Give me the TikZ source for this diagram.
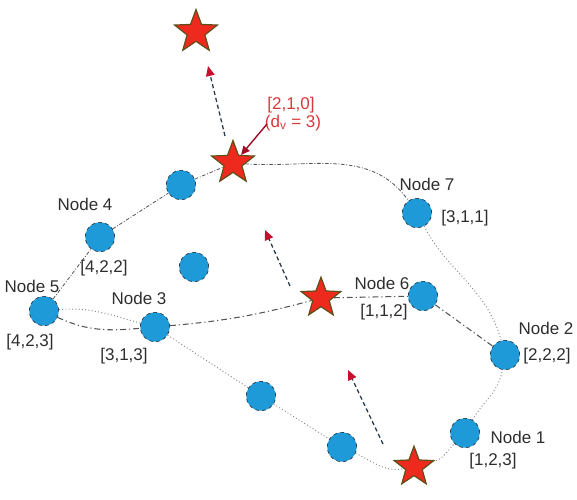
\documentclass[tikz,border=0pt]{standalone}
\usepackage{fontspec}
\setmainfont{Liberation Sans}
\usetikzlibrary{shapes.geometric,arrows.meta}
\definecolor{nodeblue}{HTML}{1E9AD8}
\definecolor{ringgray}{HTML}{2A3A48}
\definecolor{starred}{HTML}{EE2A1E}
\definecolor{starrim}{HTML}{5E4E18}
\definecolor{linkgray}{HTML}{505458}
\definecolor{tagred}{HTML}{D8383A}
\definecolor{tipred}{HTML}{C8102E}
\definecolor{textgray}{HTML}{2E2E2E}
\tikzset{
  sensor/.style={circle,fill=nodeblue,draw=ringgray,dashed,line width=0.6pt,
    minimum size=8.8mm,inner sep=0pt},
  anchorstar/.style={star,star points=5,star point ratio=2.4,fill=starred,
    draw=starrim,line width=1pt,minimum size=13.5mm,inner sep=0pt},
  ring link/.style={draw=linkgray,line width=0.7pt,dash pattern=on 3pt off 1.5pt on 0.8pt off 1.5pt},
  wide link/.style={draw=linkgray,line width=0.9pt,dash pattern=on 5pt off 2.5pt on 1pt off 2.5pt},
  dot link/.style={draw=linkgray!70,line width=0.8pt,dotted},
  move/.style={draw=ringgray,line width=1.1pt,dash pattern=on 3.5pt off 2.5pt,
    -{Triangle[length=3mm,width=2.6mm,color=tipred,fill=tipred]}},
  tag/.style={font=\fontsize{14.5}{16}\selectfont,text=textgray,inner sep=0pt}
}
\begin{document}
\begin{tikzpicture}[x=0.03cm,y=-0.03cm]
  \useasboundingbox (0,0) rectangle (577,500);
  % anchors
  \node[anchorstar] (s1) at (196,32) {};
  \node[anchorstar] (s2) at (233,163) {};
  \node[anchorstar,minimum size=12.5mm] (s3) at (321,298) {};
  \node[anchorstar,minimum size=12.5mm] (s4) at (414,467) {};
  % sensors
  \foreach \n/\p in {c1/{181,185},n4/{100,237},n5/{44,311},n3/{155,327},
      c2/{194,267},n6/{423,296},n7/{417,213},n2/{505,355},n1/{465,433},
      c3/{261,396},c4/{342,447}}
    \node[sensor] (\n) at (\p) {};
  % links
  \draw[ring link] (n5) -- (n4) -- (c1) -- (s2);
  \draw[ring link] (s2) to[out=-4,in=125] (n7);
  \draw[dot link] (n7) to[out=-62,in=105] (n2);
  \draw[dot link] (n5) to[out=5,in=165] (n3);
  \draw[wide link] (n5) to[out=-25,in=185] (n3);
  \draw[wide link] (n3) to[out=5,in=195] (s3) -- (n6) -- (n2);
  \draw[dot link] (n3) -- (c3) -- (c4) to[out=-25,in=190] (s4)
    to[out=15,in=-135] (n1) to[out=60,in=-100] (n2);
  % moves
  \coordinate (m1a) at (225,136);
  \coordinate (m1b) at (208,66);
  \coordinate (m2a) at (290,286);
  \coordinate (m2b) at (265,230);
  \coordinate (m3a) at (383,444);
  \coordinate (m3b) at (348,370);
  \draw[move] (m1a) -- (m1b);
  \draw[move] (m2a) -- (m2b);
  \draw[move] (m3a) -- (m3b);
  % labels
  \node[tag] (l4) at (85,204) {Node 4};
  \node[tag] (v4) at (104,268) {[4,2,2]};
  \node[tag] (l5) at (32,286) {Node 5};
  \node[tag] (v5) at (30,342) {[4,2,3]};
  \node[tag] (l3) at (139,298) {Node 3};
  \node[tag] (v3) at (124,356) {[3,1,3]};
  \node[tag] (l6) at (382,283) {Node 6};
  \node[tag] (v6) at (384,312) {[1,1,2]};
  \node[tag] (l7) at (427,184) {Node 7};
  \node[tag] (v7) at (465,218) {[3,1,1]};
  \node[tag] (l2) at (546,328) {Node 2};
  \node[tag] (v2) at (547,356) {[2,2,2]};
  \node[tag] (l1) at (518,437) {Node 1};
  \node[tag] (v1) at (493,461) {[1,2,3]};
  \node[tag,text=tagred] (t1) at (291,105) {[2,1,0]};
  \node[tag,text=tagred] (t2) at (293,123) {(d\textsubscript{v} = 3)};
  \coordinate (p1) at (267,124);
  \draw[draw=tipred!80!black,line width=1.2pt,-{Triangle[length=2.6mm,width=2.4mm]}]
    (p1) -- (s2.north east);
\end{tikzpicture}
\end{document}
